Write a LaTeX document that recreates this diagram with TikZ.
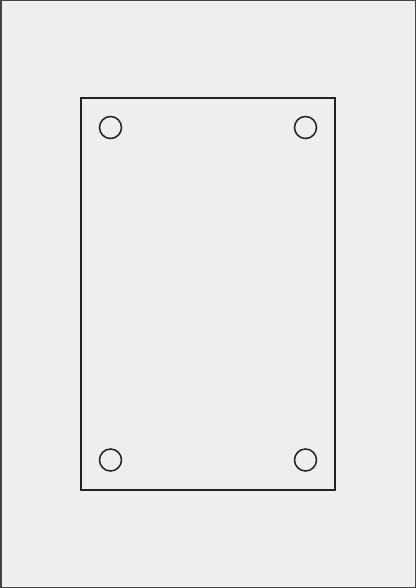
\documentclass[tikz,border=0pt]{standalone}
\definecolor{sheet}{HTML}{EEEEEE}
\definecolor{frameline}{HTML}{444444}
\definecolor{ink}{HTML}{222222}
\begin{document}
\begin{tikzpicture}[x=1pt,y=-1pt]
\useasboundingbox (0,0) rectangle (416,588);
\path[fill=sheet,draw=frameline,line width=1.5pt] (0.75,0.75) rectangle (415.25,587.25);
\draw[ink,line width=1.5pt] (81,98) rectangle (335,490);
\foreach \x/\y in {110.5/127.5,305.5/127.5,110.5/460,305.5/460}
  \draw[ink,line width=1.5pt] (\x,\y) circle[radius=11];
\end{tikzpicture}
\end{document}
